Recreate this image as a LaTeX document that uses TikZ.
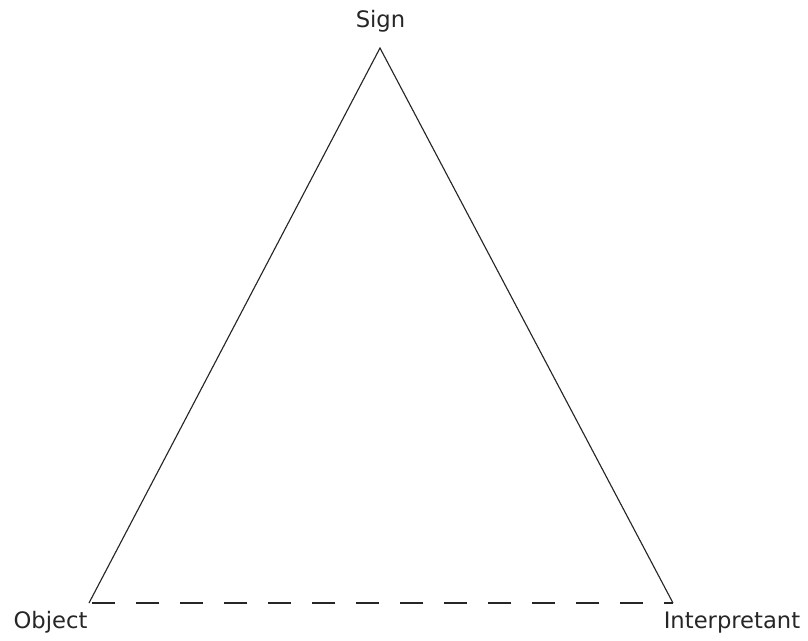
\documentclass[tikz,border=0pt]{standalone}
\usepackage{fontspec}
\setmainfont{DejaVu Sans}
\begin{document}
\begin{tikzpicture}[x=0.75pt,y=-0.75pt,
  edge/.style={line width=0.85pt, draw=black!85},
  dashedge/.style={edge, dash pattern=on 17.25pt off 15.75pt, dash phase=30.75pt},
  lbl/.style={anchor=base, inner sep=0pt, font=\fontsize{17pt}{20pt}\selectfont, text=black!85}]
\useasboundingbox (0,0) rectangle (808,640);
\coordinate (S) at (380,48);
\coordinate (O) at (89,603);
\coordinate (I) at (673,603);
\draw[edge] (O) -- (S) -- (I);
\draw[dashedge] (O) -- (I);
\node[lbl] (sign) at (380.5,27.5) {Sign};
\node[lbl] (object) at (50.5,628.5) {Object};
\node[lbl] (interp) at (732,628.5) {Interpretant};
\end{tikzpicture}
\end{document}
